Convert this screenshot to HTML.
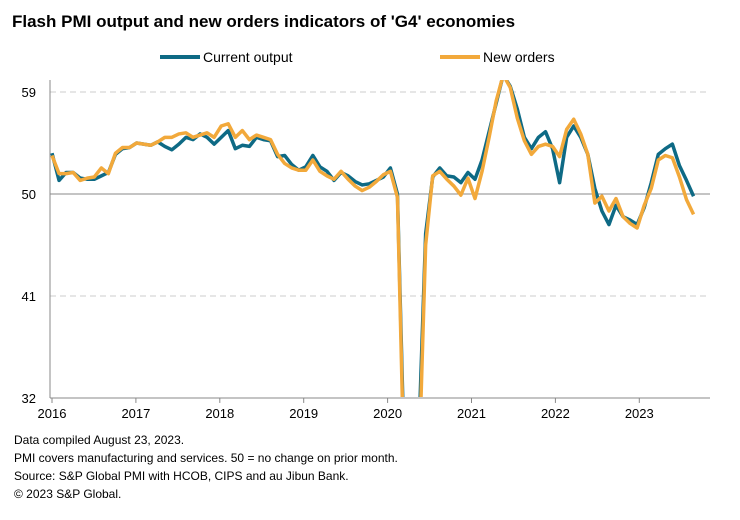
<!DOCTYPE html>
<html><head><meta charset="utf-8"><style>
html,body{margin:0;padding:0;background:#fff;font-family:"Liberation Sans",Arial,sans-serif;overflow:hidden;width:740px;height:520px;}
svg{display:block;}
svg text{font-family:"Liberation Sans",Arial,sans-serif;}
</style></head><body>
<svg width="740" height="520" xmlns="http://www.w3.org/2000/svg">
<text x="12" y="27" font-size="17" font-weight="bold" fill="#000">Flash PMI output and new orders indicators of 'G4' economies</text>
<g>
<line x1="160" y1="57" x2="200" y2="57" stroke="#0e6a85" stroke-width="4"/>
<text x="203" y="62" font-size="14">Current output</text>
<line x1="440" y1="57" x2="480" y2="57" stroke="#f2a93b" stroke-width="4"/>
<text x="483" y="62" font-size="14">New orders</text>
</g>
<g id="grid"></g>
<g id="axes"></g>
<defs><clipPath id="plotclip"><rect x="50" y="80" width="660" height="317"/></clipPath></defs>
<g id="series" clip-path="url(#plotclip)"></g>
<g font-size="12" fill="#000">
<text x="14" y="444">Data compiled August 23, 2023.</text>
<text x="14" y="462">PMI covers manufacturing and services. 50 = no change on prior month.</text>
<text x="14" y="480">Source: S&amp;P Global PMI with HCOB, CIPS and au Jibun Bank.</text>
<text x="14" y="498">© 2023 S&amp;P Global.</text>
</g>
</svg>
<script>
const yTicks=[32,41,50,59];
const xYears=[2016,2017,2018,2019,2020,2021,2022,2023];
const output=[53.6,51.2,51.9,51.9,51.4,51.3,51.3,51.6,51.9,53.5,54.0,54.1,
54.5,54.4,54.3,54.6,54.2,53.9,54.4,55.0,54.8,55.3,55.0,54.4,
55.0,55.6,54.0,54.3,54.2,55.0,54.8,54.7,53.3,53.4,52.6,52.1,
52.4,53.4,52.4,52.0,51.2,51.9,51.6,51.1,50.8,50.9,51.2,51.5,
52.3,50.0,26.0,16.0,28.0,46.5,51.5,52.3,51.6,51.5,51.0,51.9,
51.3,53.0,55.5,58.0,60.5,59.5,57.5,55.0,54.0,55.0,55.5,54.0,
51.0,55.0,56.0,55.0,53.5,50.5,48.5,47.3,49.0,48.0,47.7,47.3,
48.8,51.0,53.5,54.0,54.4,52.5,51.2,49.8];
const orders=[53.4,51.8,51.8,51.9,51.2,51.4,51.5,52.3,51.8,53.6,54.1,54.1,
54.5,54.4,54.3,54.6,55.0,55.0,55.3,55.4,55.0,55.2,55.4,55.0,
56.0,56.2,55.0,55.6,54.8,55.2,55.0,54.8,53.5,52.7,52.3,52.1,
52.1,53.0,52.0,51.6,51.3,52.0,51.3,50.7,50.3,50.6,51.1,51.7,
52.0,49.7,24.0,15.0,25.0,45.5,51.6,52.0,51.3,50.7,49.9,51.4,
49.6,52.0,55.0,58.2,60.5,59.4,56.7,54.7,53.5,54.2,54.4,54.2,
53.3,55.7,56.6,55.3,53.5,49.2,49.8,48.5,49.6,48.0,47.4,47.0,
49.0,50.5,53.0,53.4,53.2,51.5,49.5,48.2];
const x0=52, pxMonth=7.05, pxYear=83.9;
const vMin=32, vMax=60.1;
function X(i){return x0+i*pxMonth;}
function XYear(k){return x0+k*pxYear;}
function Y(v){return 194-(v-50)*11.33;}
const NS="http://www.w3.org/2000/svg";
const grid=document.getElementById('grid'),axes=document.getElementById('axes'),ser=document.getElementById('series');
function mk(tag,attrs,parent){const e=document.createElementNS(NS,tag);for(const k in attrs)e.setAttribute(k,attrs[k]);parent.appendChild(e);return e;}
yTicks.forEach(v=>{
  const y=Y(v);
  if(v!==32){
    const l=mk('line',{x1:50,x2:710,y1:y,y2:y,stroke:v===50?'#888':'#ccc','stroke-width':1,'stroke-dasharray':v===50?'':'6,4'},grid);
    
    
  }
  const t=mk('text',{x:36,y:y+5,'font-size':13,'text-anchor':'end'},axes);
  t.textContent=v;
  
  
});
const ax=mk('line',{x1:50,x2:710,y1:Y(32),y2:Y(32),stroke:'#888','stroke-width':1},axes);


const ay=mk('line',{x1:50,x2:50,y1:80,y2:Y(32),stroke:'#888','stroke-width':1},axes);


xYears.forEach((yr,k)=>{
  const x=XYear(k);
  const tk=mk('line',{x1:x,x2:x,y1:Y(32),y2:Y(32)+5,stroke:'#888'},axes);
  
  
  const t=mk('text',{x:x,y:418,'font-size':13,'text-anchor':'middle'},axes);
  t.textContent=yr;
  
  
});
// clip each segment to [vMin,vMax] in value space
function clipSeg(i,a,j,b){
  let t0=0,t1=1;const d=b-a;
  if(d===0){ if(a<vMin||a>vMax) return null; }
  else{
    let tA=(vMin-a)/d,tB=(vMax-a)/d;
    let lo=Math.min(tA,tB),hi=Math.max(tA,tB);
    t0=Math.max(0,lo);t1=Math.min(1,hi);
    if(t0>t1) return null;
  }
  return [[X(i+t0*(j-i)),Y(a+t0*d)],[X(i+t1*(j-i)),Y(a+t1*d)]];
}
function line(arr,color,name){
  let dstr='',last=null;
  for(let i=0;i<arr.length-1;i++){
    const s=clipSeg(i,arr[i],i+1,arr[i+1]);
    if(!s){last=null;continue;}
    const p0=s[0].map(n=>n.toFixed(2)).join(','),p1=s[1].map(n=>n.toFixed(2)).join(',');
    if(last!==p0) dstr+='M'+p0;
    dstr+='L'+p1;last=p1;
  }
  const p=mk('path',{d:dstr,fill:'none',stroke:color,'stroke-width':3.5,'stroke-linejoin':'round'},ser);
  
  
}
line(output,'#0e6a85','line-current-output');
line(orders,'#f2a93b','line-new-orders');
</script>
</body></html>
